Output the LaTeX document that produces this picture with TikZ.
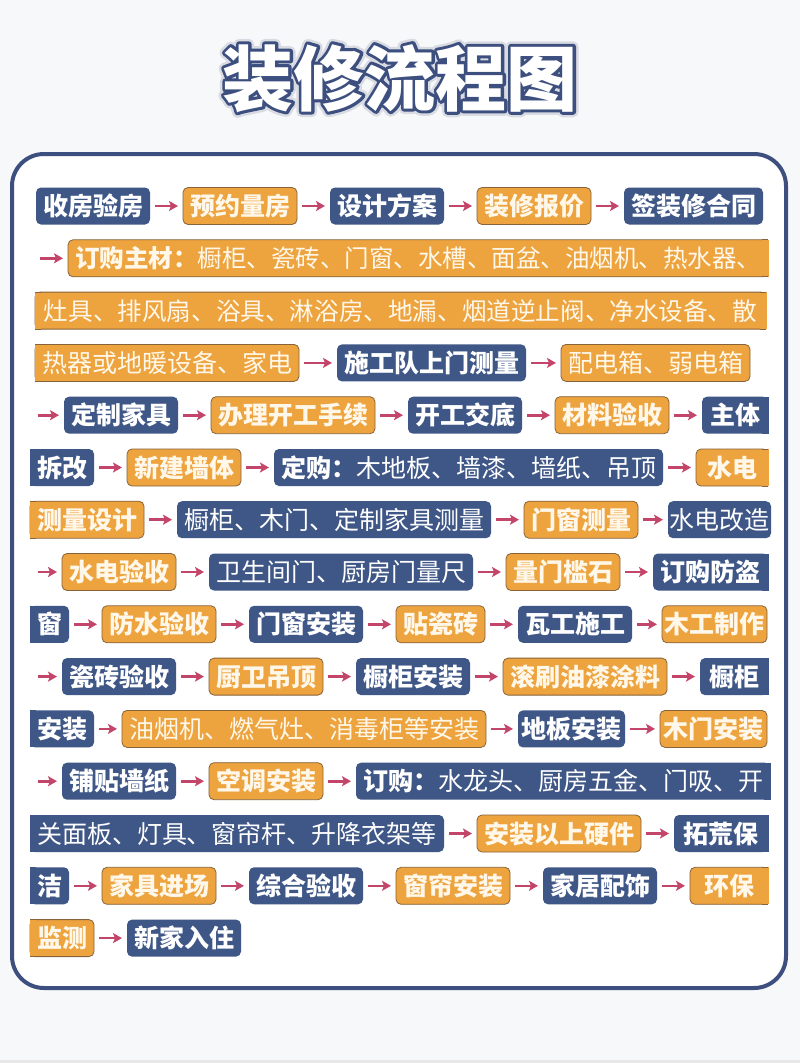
\documentclass[tikz,border=0pt]{standalone}
\usepackage{fontspec}
\setmainfont{Noto Sans CJK SC}
\usetikzlibrary{positioning, arrows.meta}

\definecolor{navyc}{HTML}{3F5787}
\definecolor{orangec}{HTML}{EDA33E}
\definecolor{oline}{HTML}{86633B}
\definecolor{arrc}{HTML}{C4456A}
\definecolor{framec}{HTML}{3D4F7F}
\definecolor{creamc}{HTML}{FFF8EA}
\definecolor{bgc}{HTML}{F7F8FA}

\tikzset{
  box/.style={minimum height=37pt, inner xsep=7pt, inner ysep=0pt, outer sep=0pt,
    rounded corners=5pt, text height=22pt, text depth=3pt,
    font=\fontsize{25}{25}\selectfont\bfseries},
  nb/.style={box, fill=navyc, text=white},
  ob/.style={box, fill=orangec, draw=oline, line width=0.8pt, text=creamc},
  lite/.style={font=\fontsize{25}{25}\selectfont},
  snug/.style={inner xsep=#1}, snug/.default=3.5pt,
  arr/.style={draw=arrc, line width=2.6pt, -{Stealth[length=9pt,width=10pt,inset=2pt]},
    shorten <=5pt, shorten >=5pt},
  ttl/.style={font=\fontsize{71}{71}\selectfont\bfseries, text height=62.5pt, text depth=8.5pt,
    inner sep=0pt, text=white}
}

\begin{document}
\begin{tikzpicture}[x=1pt, y=-1pt, node distance=33pt]
  \useasboundingbox (0,0) rectangle (800,1063);
  \fill[bgc] (0,0) rectangle (800,1063);
  \fill[gray!18] (0,1060) rectangle (800,1063);

  % title: light glow, navy outline, white letters on top
  \node[ttl] (glow) at (400,78)
    {\special{pdf:literal direct 1 Tr 11 w 1 j 0.85 0.86 0.89 RG}装修流程图\special{pdf:literal direct 0 Tr}};
  \node[ttl] (rim) at (400,78)
    {\special{pdf:literal direct 1 Tr 6 w 1 j 0.239 0.31 0.498 RG}装修流程图\special{pdf:literal direct 0 Tr}};
  \node[ttl] (title) at (400,78) {装修流程图};

  % frame
  \draw[framec, line width=4pt, rounded corners=32pt, fill=white] (12,154) rectangle (786,988);

  % row 1
  \node[nb, anchor=west] (shyf) at (36,206) {收房验房};
  \node[ob, right=of shyf] (yylf) {预约量房};
  \node[nb, right=of yylf] (sjfa) {设计方案};
  \node[ob, right=of sjfa] (zxbj) {装修报价};
  \node[nb, right=of zxbj] (qht)  {签装修合同};
  %
  \coordinate (s2) at (35,258.3);
  \node[ob, anchor=west, minimum width=698pt, font=\fontsize{24.5}{24.5}\selectfont\bfseries]
    (dgzc) at (68,258.3) {订购主材：\mdseries 橱柜、瓷砖、门窗、水槽、面盆、油烟机、热水器、};
  %
  \node[ob, anchor=west, minimum width=731pt, inner xsep=4pt, font=\fontsize{24.6}{24.6}\selectfont]
    (zjlist) at (35,310.6) {灶具、排风扇、浴具、淋浴房、地漏、烟道逆止阀、净水设备、散};
  %
  \node[ob, lite, anchor=west] (rqjd) at (35,362.9) {热器或地暖设备、家电};
  \node[nb, right=38pt of rqjd] (sgd) {施工队上门测量};
  \node[ob, lite, right=35pt of sgd] (pdx) {配电箱、弱电箱};
  %
  \coordinate (s5) at (33,415.2);
  \node[nb, anchor=west] (dzjj) at (64,415.2) {定制家具};
  \node[ob, right=of dzjj] (bltg) {办理开工手续};
  \node[nb, right=of bltg] (kgjd) {开工交底};
  \node[ob, right=of kgjd] (clys) {材料验收};
  \node[nb, right=of clys, minimum width=66pt] (zt) {主体};
  %
  \node[nb, anchor=west] (cg) at (30,467.5) {拆改};
  \node[ob, right=of cg] (xjqt) {新建墙体};
  \node[nb, right=of xjqt] (dgmdb) {定购：\mdseries 木地板、墙漆、墙纸、吊顶};
  \node[ob, right=of dgmdb, minimum width=72pt] (sd) {水电};
  %
  \node[ob, anchor=west] (clsj) at (30,519.7) {测量设计};
  \node[nb, lite, right=of clsj] (cgcl) {橱柜、木门、定制家具测量};
  \node[ob, right=of cgcl] (mccl) {门窗测量};
  \node[nb, lite, snug=1.5pt, right=30pt of mccl] (sdgz) {水电改造};
  %
  \coordinate (s8) at (33,572.0);
  \node[ob, anchor=west] (sdys) at (62,572.0) {水电验收};
  \node[nb, lite, right=of sdys] (wsjm) {卫生间门、厨房门量尺};
  \node[ob, right=of wsjm] (lmks) {量门槛石};
  \node[nb, right=of lmks, minimum width=115pt] (dgfd) {订购防盗};
  %
  \node[nb, anchor=west] (chuang) at (30,624.3) {窗};
  \node[ob, right=of chuang] (fsys) {防水验收};
  \node[nb, right=of fsys] (mcaz) {门窗安装};
  \node[ob, right=of mcaz] (tcz)  {贴瓷砖};
  \node[nb, right=of tcz] (wgsg) {瓦工施工};
  \node[ob, snug=2.5pt, right=30pt of wgsg] (mgzz) {木工制作};
  %
  \coordinate (s10) at (33,676.6);
  \node[nb, anchor=west] (czys) at (62,676.6) {瓷砖验收};
  \node[ob, right=of czys] (cwdd) {厨卫吊顶};
  \node[nb, right=of cwdd] (cgaz) {橱柜安装};
  \node[ob, right=of cgaz] (gsyq) {滚刷油漆涂料};
  \node[nb, right=of gsyq, minimum width=68pt] (cgui) {橱柜};
  %
  \node[nb, anchor=west] (anz) at (30,728.9) {安装};
  \node[ob, lite, right=28pt of anz] (yyj) {油烟机、燃气灶、消毒柜等安装};
  \node[nb, snug, right=32pt of yyj] (dbaz) {地板安装};
  \node[ob, snug, right=35pt of dbaz] (mmaz) {木门安装};
  %
  \coordinate (s12) at (33,781.2);
  \node[nb, anchor=west] (ptqz) at (62,781.2) {铺贴墙纸};
  \node[ob, right=of ptqz] (ktaz) {空调安装};
  \node[nb, right=of ktaz] (dgslt) {订购：\mdseries 水龙头、厨房五金、门吸、开};
  %
  \node[nb, lite, anchor=west] (gmb) at (30,833.5) {关面板、灯具、窗帘杆、升降衣架等};
  \node[ob, right=of gmb] (azyj) {安装以上硬件};
  \node[nb, right=of azyj, minimum width=94pt] (thb) {拓荒保};
  %
  \node[nb, anchor=west] (jie) at (30,885.8) {洁};
  \node[ob, right=of jie] (jjjc) {家具进场};
  \node[nb, right=of jjjc] (zhys) {综合验收};
  \node[ob, right=of zhys] (claz) {窗帘安装};
  \node[nb, right=of claz] (jjps) {家居配饰};
  \node[ob, right=of jjps, minimum width=78pt] (hb) {环保};
  %
  \node[ob, anchor=west] (jc) at (30,938.1) {监测};
  \node[nb, right=of jc] (xjrz) {新家入住};

  % square ends where a box runs on to the next line
  \foreach \n in {cg, chuang, anz, gmb, jie}
    \fill[navyc] ([xshift=-0.5pt]\n.north west) rectangle ([xshift=6pt]\n.south west);
  \foreach \n in {zt, dgfd, cgui, dgslt, thb}
    \fill[navyc] ([xshift=-6pt]\n.north east) rectangle ([xshift=0.5pt]\n.south east);
  \foreach \n in {zjlist, rqjd, clsj, jc} {
    \fill[orangec] ([xshift=-0.5pt]\n.north west) rectangle ([xshift=6pt]\n.south west);
    \draw[oline, line width=0.8pt] (\n.north west) -- ([xshift=6pt]\n.north west)
      (\n.south west) -- ([xshift=6pt]\n.south west);
  }
  \foreach \n in {dgzc, zjlist, sd, hb} {
    \fill[orangec] ([xshift=-6pt]\n.north east) rectangle ([xshift=0.5pt]\n.south east);
    \draw[oline, line width=0.8pt] (\n.north east) -- ([xshift=-6pt]\n.north east)
      (\n.south east) -- ([xshift=-6pt]\n.south east);
  }

  % arrows
  \draw[arr] (shyf) -- (yylf);
  \draw[arr] (yylf) -- (sjfa);
  \draw[arr] (sjfa) -- (zxbj);
  \draw[arr] (zxbj) -- (qht);
  \draw[arr] (s2) -- (dgzc);
  \draw[arr] (rqjd) -- (sgd);
  \draw[arr] (sgd) -- (pdx);
  \draw[arr] (s5) -- (dzjj);
  \draw[arr] (dzjj) -- (bltg);
  \draw[arr] (bltg) -- (kgjd);
  \draw[arr] (kgjd) -- (clys);
  \draw[arr] (clys) -- (zt);
  \draw[arr] (cg) -- (xjqt);
  \draw[arr] (xjqt) -- (dgmdb);
  \draw[arr] (dgmdb) -- (sd);
  \draw[arr] (clsj) -- (cgcl);
  \draw[arr] (cgcl) -- (mccl);
  \draw[arr] (mccl) -- (sdgz);
  \draw[arr] (s8) -- (sdys);
  \draw[arr] (sdys) -- (wsjm);
  \draw[arr] (wsjm) -- (lmks);
  \draw[arr] (lmks) -- (dgfd);
  \draw[arr] (chuang) -- (fsys);
  \draw[arr] (fsys) -- (mcaz);
  \draw[arr] (mcaz) -- (tcz);
  \draw[arr] (tcz) -- (wgsg);
  \draw[arr] (wgsg) -- (mgzz);
  \draw[arr] (s10) -- (czys);
  \draw[arr] (czys) -- (cwdd);
  \draw[arr] (cwdd) -- (cgaz);
  \draw[arr] (cgaz) -- (gsyq);
  \draw[arr] (gsyq) -- (cgui);
  \draw[arr] (anz) -- (yyj);
  \draw[arr] (yyj) -- (dbaz);
  \draw[arr] (dbaz) -- (mmaz);
  \draw[arr] (s12) -- (ptqz);
  \draw[arr] (ptqz) -- (ktaz);
  \draw[arr] (ktaz) -- (dgslt);
  \draw[arr] (gmb) -- (azyj);
  \draw[arr] (azyj) -- (thb);
  \draw[arr] (jie) -- (jjjc);
  \draw[arr] (jjjc) -- (zhys);
  \draw[arr] (zhys) -- (claz);
  \draw[arr] (claz) -- (jjps);
  \draw[arr] (jjps) -- (hb);
  \draw[arr] (jc) -- (xjrz);
\end{tikzpicture}
\end{document}
